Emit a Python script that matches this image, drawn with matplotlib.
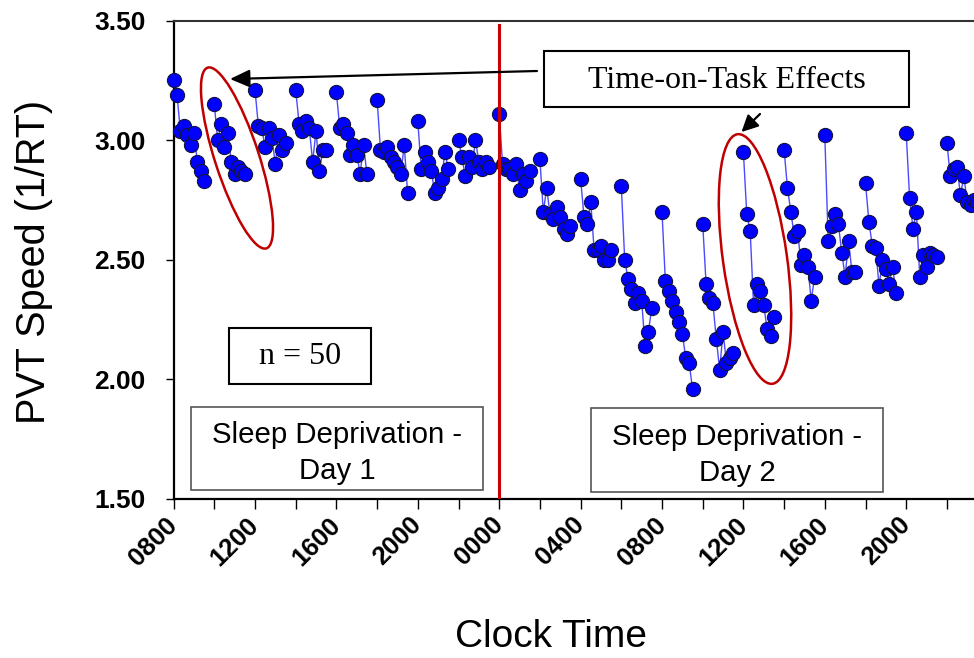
import matplotlib
matplotlib.use("Agg")
import matplotlib.pyplot as plt
import matplotlib.transforms as mtransforms
from matplotlib.patches import Ellipse, Rectangle

# ---------------- data ----------------
# PVT bouts: start time in hours after 08:00 on day 1, one value per 10-min bin
bout_start_hours = [0, 2, 4, 6, 8, 10, 12, 14, 16, 18, 20, 22, 24, 26, 28, 30, 32, 34, 36, 38]
bin_hours = 1.0 / 6.0

bout_1 = [3.25, 3.19, 3.04, 3.06, 3.02, 2.98, 3.03, 2.91, 2.87, 2.83]
bout_2 = [3.15, 3.00, 3.07, 2.97, 3.03, 2.91, 2.86, 2.89, 2.87, 2.86]
bout_3 = [3.21, 3.06, 3.05, 2.97, 3.05, 3.01, 2.90, 3.02, 2.96, 2.99]
bout_4 = [3.21, 3.07, 3.04, 3.08, 3.05, 2.91, 3.04, 2.87, 2.96, 2.96]
bout_5 = [3.20, 3.05, 3.07, 3.03, 2.94, 2.98, 2.94, 2.86, 2.98, 2.86]
bout_6 = [3.17, 2.96, 2.95, 2.97, 2.93, 2.91, 2.89, 2.86, 2.98, 2.78]
bout_7 = [3.08, 2.88, 2.95, 2.91, 2.87, 2.78, 2.80, 2.84, 2.95, 2.88]
bout_8 = [3.00, 2.93, 2.85, 2.93, 2.89, 3.00, 2.91, 2.88, 2.91, 2.89]
bout_9 = [3.11, 2.90, 2.88, 2.88, 2.86, 2.90, 2.79, 2.86, 2.83, 2.87]
bout_10 = [2.92, 2.70, 2.80, 2.69, 2.67, 2.72, 2.68, 2.63, 2.61, 2.64]
bout_11 = [2.84, 2.68, 2.65, 2.74, 2.54, 2.54, 2.56, 2.50, 2.50, 2.54]
bout_12 = [2.81, 2.50, 2.42, 2.38, 2.32, 2.36, 2.33, 2.14, 2.20, 2.30]
bout_13 = [2.70, 2.41, 2.37, 2.33, 2.28, 2.24, 2.19, 2.09, 2.07, 1.96]
bout_14 = [2.65, 2.40, 2.34, 2.32, 2.17, 2.04, 2.20, 2.07, 2.09, 2.11]
bout_15 = [2.95, 2.69, 2.62, 2.31, 2.40, 2.37, 2.31, 2.21, 2.18, 2.26]
bout_16 = [2.96, 2.80, 2.70, 2.60, 2.62, 2.48, 2.52, 2.47, 2.33, 2.43]
bout_17 = [3.02, 2.58, 2.64, 2.69, 2.65, 2.53, 2.43, 2.58, 2.45, 2.45]
bout_18 = [2.82, 2.66, 2.56, 2.55, 2.39, 2.50, 2.46, 2.40, 2.47, 2.36]
bout_19 = [3.03, 2.76, 2.63, 2.70, 2.43, 2.52, 2.47, 2.53, 2.52, 2.51]
bout_20 = [2.99, 2.85, 2.88, 2.89, 2.77, 2.85, 2.74, 2.73, 2.75, 2.74]

bout_values = [bout_1, bout_2, bout_3, bout_4, bout_5, bout_6, bout_7, bout_8,
               bout_9, bout_10, bout_11, bout_12, bout_13, bout_14, bout_15,
               bout_16, bout_17, bout_18, bout_19, bout_20]

x_label_hours = [0, 4, 8, 12, 16, 20, 24, 28, 32, 36]
x_tick_labels = ["0800", "1200", "1600", "2000", "0000", "0400", "0800", "1200", "1600", "2000"]
x_minor_hours = [2, 6, 10, 14, 18, 22, 26, 30, 34, 38]
y_ticks = [1.50, 2.00, 2.50, 3.00, 3.50]
midnight_hour = 16

# ---------------- figure ----------------
W, H = 974, 658
fig = plt.figure(figsize=(W / 100, H / 100), dpi=100)
ax = fig.add_axes([173.6 / W, 1 - 499 / H, (W - 173.6) / W, (499 - 20.7) / H])
ax.set_xlim(0, (W - 173.6) / 20.35)
ax.set_ylim(1.5, 3.5)

for start, vals in zip(bout_start_hours, bout_values):
    xs = [start + i * bin_hours for i in range(len(vals))]
    ax.plot(xs, vals, "-", color="#4a4aff", lw=1.0, zorder=2, clip_on=False)
    ax.plot(xs, vals, "o", ms=10.2, mfc="#0000ff", mec="#14143c", mew=0.8,
            zorder=3, clip_on=False)

ax.axvline(midnight_hour, ymax=0.99, color="#cc0000", lw=2.2, zorder=4)

# spines
ax.spines["right"].set_visible(False)
for s in ("left", "bottom"):
    ax.spines[s].set_color("black")
    ax.spines[s].set_linewidth(1.6)
ax.spines["top"].set_color("#333333")
ax.spines["top"].set_linewidth(1.5)

# ticks
ax.set_xticks(x_label_hours)
ax.set_xticklabels(x_tick_labels, rotation=45, ha="right", va="center",
                   rotation_mode="anchor",
                   fontsize=18.5, fontweight="bold", family="Liberation Sans")
shift = mtransforms.ScaledTranslation(6 / 100, 2 / 100, fig.dpi_scale_trans)
for lbl in ax.get_xticklabels():
    lbl.set_transform(lbl.get_transform() + shift)
ax.set_xticks(x_minor_hours, minor=True)
ax.tick_params(axis="x", which="both", direction="out", length=7, width=1, pad=9)
ax.set_yticks(y_ticks)
ax.set_yticklabels(["%.2f" % v for v in y_ticks], fontsize=19,
                   fontweight="bold", family="Liberation Sans")
ax.tick_params(axis="y", direction="out", length=6, width=1, pad=14)

ax.set_ylabel("PVT Speed (1/RT)", fontsize=28.5, family="Liberation Sans", va="center")
ax.yaxis.set_label_coords((34 - 173.6) / (W - 173.6), 0.496)
ax.set_xlabel("Clock Time", fontsize=28, family="Liberation Sans", va="center")
ax.xaxis.set_label_coords((551 - 173.6) / (W - 173.6), -(637 - 499) / (499 - 20.7))


def fx(x):
    return x / W


def fy(y):
    return 1 - y / H


def box(x0, y0, x1, y1, ec="black", lw=1.5):
    r = Rectangle((fx(x0), fy(y1)), fx(x1) - fx(x0), fy(y0) - fy(y1),
                  transform=fig.transFigure, facecolor="white", edgecolor=ec,
                  lw=lw, zorder=10)
    fig.add_artist(r)


# annotation boxes
box(544, 51, 909, 107)
fig.text(fx(726.5), fy(80), "Time-on-Task Effects", ha="center", va="center",
         fontsize=23, family="Liberation Serif", zorder=11)
box(229, 328, 371, 384)
fig.text(fx(300), fy(357), "n = 50", ha="center", va="center",
         fontsize=23, family="Liberation Serif", zorder=11)
box(191, 407, 483, 490, ec="#555555", lw=1.2)
fig.text(fx(337), fy(453), "Sleep Deprivation -\nDay 1", ha="center", va="center",
         fontsize=21.2, family="Liberation Sans", linespacing=1.32, zorder=11)
box(591, 408, 883, 492, ec="#555555", lw=1.2)
fig.text(fx(737), fy(455), "Sleep Deprivation -\nDay 2", ha="center", va="center",
         fontsize=21.2, family="Liberation Sans", linespacing=1.32, zorder=11)

# ellipses (in inches from lower-left)
e1 = Ellipse((2.37, (H - 158) / 100), 1.90, 0.44, angle=108, fill=False,
             edgecolor="#c00000", lw=1.8, transform=fig.dpi_scale_trans, zorder=6)
e2 = Ellipse((7.55, (H - 259) / 100), 2.52, 0.64, angle=98, fill=False,
             edgecolor="#c00000", lw=1.8, transform=fig.dpi_scale_trans, zorder=6)
fig.add_artist(e1)
fig.add_artist(e2)

# arrows
arrow_style = dict(arrowstyle="-|>,head_length=1.0,head_width=0.45",
                   mutation_scale=12, color="black", lw=1.6, shrinkA=0, shrinkB=0)
ax.annotate("", xy=(230, H - 79), xytext=(537, H - 71), xycoords="figure pixels",
            textcoords="figure pixels", arrowprops=arrow_style, zorder=7)
ax.annotate("", xy=(741.5, H - 132), xytext=(760, H - 114), xycoords="figure pixels",
            textcoords="figure pixels",
            arrowprops=dict(arrowstyle="-|>,head_length=1.0,head_width=0.5",
                            mutation_scale=10, color="black", lw=1.6,
                            shrinkA=0, shrinkB=0), zorder=7)

fig.savefig("out.png", dpi=100)
